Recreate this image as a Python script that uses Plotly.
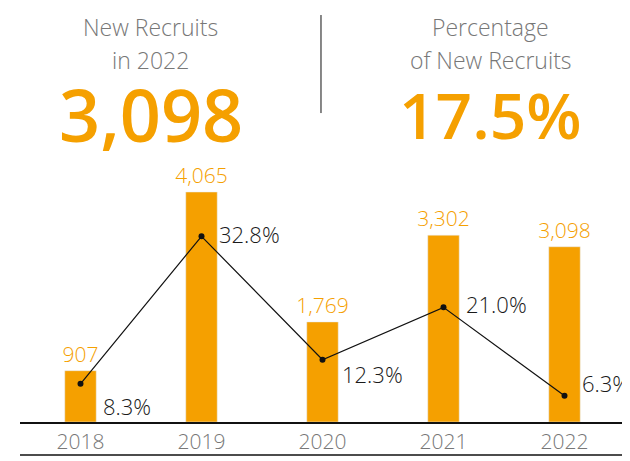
import plotly.graph_objects as go

years = ["2018", "2019", "2020", "2021", "2022"]
recruits = [907, 4065, 1769, 3302, 3098]
pct = [8.3, 32.8, 12.3, 21.0, 6.3]
headline_recruits = "3,098"
headline_pct = "17.5%"

ORANGE = "#F5A000"
GREY = "#777777"
FONT = "Open Sans"
LIGHT = 300

# label offsets (px) for percentage labels
pct_shift = [(20, -22), (15, 2), (17, -14), (20, 3), (15, 13)]

fig = go.Figure()
fig.add_trace(go.Bar(
    x=years, y=recruits, width=0.26, marker_color=ORANGE,
    text=[f"{v:,}" for v in recruits], textposition="outside",
    constraintext="none", cliponaxis=False,
    textfont=dict(color=ORANGE, size=21, family=FONT, weight=LIGHT),
))
fig.add_trace(go.Scatter(
    x=years, y=pct, yaxis="y2", mode="lines+markers",
    line=dict(color="#111111", width=1.2),
    marker=dict(color="#111111", size=6),
))

ann = []
for i, (v, (dx, dy)) in enumerate(zip(pct, pct_shift)):
    ann.append(dict(x=i, y=v, xref="x", yref="y2", text=f"{v:.1f}%",
                    showarrow=False, xanchor="left", yanchor="middle",
                    xshift=dx, yshift=dy,
                    font=dict(color="#1a1a1a", size=22, family=FONT, weight=LIGHT)))

def head(x, y, text, size, color, weight=LIGHT):
    return dict(x=x, y=y, xref="paper", yref="paper", text=text, showarrow=False,
                xanchor="center", yanchor="middle",
                font=dict(size=size, color=color, family=FONT, weight=weight))

ann += [
    head(0.2165, 1.569, "New Recruits", 23, GREY),
    head(0.2165, 1.437, "in 2022", 23, GREY),
    head(0.2165, 1.222, headline_recruits, 72, ORANGE, 600),
    head(0.7785, 1.569, "Percentage", 23, GREY),
    head(0.7785, 1.437, "of New Recruits", 23, GREY),
    head(0.7785, 1.222, headline_pct, 64, ORANGE, 600),
]

fig.update_layout(
    width=622, height=453,
    margin=dict(l=12, r=5, t=162, b=39),
    paper_bgcolor="white", plot_bgcolor="white",
    showlegend=False,
    annotations=ann,
    xaxis=dict(type="category", categoryorder="array", categoryarray=years,
               range=[-0.5, 4.5],
               showline=True, linecolor="#111111", linewidth=1.5, ticks="",
               tickfont=dict(size=21, color=GREY, family=FONT, weight=LIGHT),
               showgrid=False, zeroline=False),
    yaxis=dict(range=[0, 4454], visible=False, showgrid=False, zeroline=False),
    yaxis2=dict(range=[1.95, 43.82], overlaying="y", visible=False,
                showgrid=False, zeroline=False),
    shapes=[
        dict(type="line", xref="paper", yref="paper", x0=0, x1=1.01,
             y0=-0.131, y1=-0.131, line=dict(color="#111111", width=1.5)),
        dict(type="line", xref="paper", yref="paper", x0=0.4975, x1=0.4975,
             y0=1.226, y1=1.615, line=dict(color="#111111", width=1)),
    ],
)

fig.write_html("out.html")
